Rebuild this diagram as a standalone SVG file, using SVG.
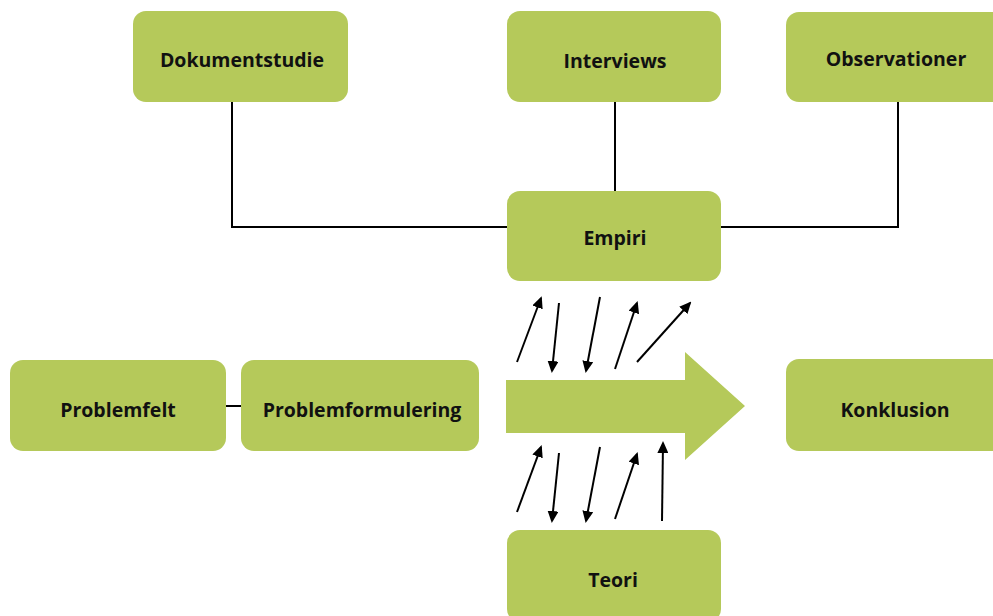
<svg xmlns="http://www.w3.org/2000/svg" width="993" height="616" viewBox="0 0 993 616">
<style>
.box{fill:#b5c95a;}
.lbl{font-family:"Open Sans","Liberation Sans",sans-serif;font-weight:bold;font-size:19.5px;fill:#111;text-anchor:middle;}
.ln{stroke:#000;stroke-width:2;fill:none;}
.ar{stroke:#000;stroke-width:2;fill:none;marker-end:url(#ah);}
</style>
<defs>
<marker id="ah" markerWidth="12" markerHeight="11" refX="10" refY="5.5" orient="auto" markerUnits="userSpaceOnUse">
<path d="M0,0 L12,5.5 L0,11 Z" fill="#000"/>
</marker>
</defs>
<rect width="993" height="616" fill="#fff"/>
<g id="connectors">
<polyline class="ln" points="232,102 232,227 507,227"/>
<line class="ln" x1="615" y1="102" x2="615" y2="191"/>
<polyline class="ln" points="898,102 898,227 721,227"/>
<line class="ln" x1="226" y1="406" x2="241" y2="406"/>
<line class="ar" x1="517" y1="362" x2="541" y2="298"/>
<line class="ar" x1="559" y1="303" x2="552" y2="371"/>
<line class="ar" x1="600" y1="297" x2="586" y2="371"/>
<line class="ar" x1="615" y1="369" x2="637" y2="303"/>
<line class="ar" x1="637" y1="362" x2="690" y2="303"/>
<line class="ar" x1="517" y1="512" x2="541" y2="447"/>
<line class="ar" x1="559" y1="453" x2="552" y2="521"/>
<line class="ar" x1="600" y1="447" x2="586" y2="521"/>
<line class="ar" x1="615" y1="519" x2="637" y2="454"/>
<line class="ar" x1="662" y1="521" x2="663" y2="443"/>
</g>
<g id="main-arrow">
<polygon class="box" points="506,380 685,380 685,352 745,406 685,460 685,433 506,433"/>
</g>
<g id="dokumentstudie"><rect class="box" x="133" y="11" width="215" height="91" rx="13"/><text class="lbl" x="242" y="67">Dokumentstudie</text></g>
<g id="interviews"><rect class="box" x="507" y="11" width="214" height="91" rx="13"/><text class="lbl" x="615" y="68">Interviews</text></g>
<g id="observationer"><rect class="box" x="786" y="12" width="220" height="90" rx="13"/><text class="lbl" x="896" y="66">Observationer</text></g>
<g id="empiri"><rect class="box" x="507" y="191" width="214" height="90" rx="13"/><text class="lbl" x="615" y="245">Empiri</text></g>
<g id="problemfelt"><rect class="box" x="10" y="360" width="216" height="91" rx="13"/><text class="lbl" x="118" y="417">Problemfelt</text></g>
<g id="problemformulering"><rect class="box" x="241" y="360" width="238" height="91" rx="13"/><text class="lbl" x="362" y="417">Problemformulering</text></g>
<g id="konklusion"><rect class="box" x="786" y="359" width="220" height="92" rx="13"/><text class="lbl" x="895" y="417">Konklusion</text></g>
<g id="teori"><rect class="box" x="507" y="530" width="214" height="92" rx="13"/><text class="lbl" x="613" y="587">Teori</text></g>
</svg>
